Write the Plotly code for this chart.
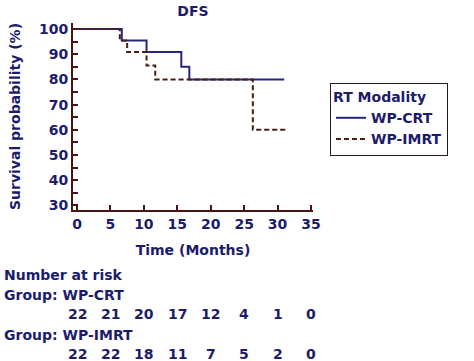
import plotly.graph_objects as go

# Kaplan-Meier step data
crt_time = [0, 6.7, 10.4, 15.6, 16.8, 31.0]
crt_surv = [100, 95.5, 90.9, 85.0, 80.0, 80.0]
imrt_time = [0, 6.4, 7.5, 10.4, 11.7, 26.3, 31.2]
imrt_surv = [100, 95.5, 90.9, 85.5, 80.0, 60.0, 60.0]

risk_times = [0, 5, 10, 15, 20, 25, 30, 35]
risk_crt = [22, 21, 20, 17, 12, 4, 1, 0]
risk_imrt = [22, 22, 18, 11, 7, 5, 2, 0]

x_ticks = [0, 5, 10, 15, 20, 25, 30, 35]
y_ticks = [30, 40, 50, 60, 70, 80, 90, 100]

NAVY = "#1c1c6b"
AXIS = "#4a1414"
CRT_COLOR = "#262680"
IMRT_COLOR = "#4b1e12"
FONT = "DejaVu Sans"

fig = go.Figure()
fig.add_trace(go.Scatter(x=crt_time, y=crt_surv, mode="lines", line_shape="hv",
                         line=dict(color=CRT_COLOR, width=2), name="WP-CRT"))
fig.add_trace(go.Scatter(x=imrt_time, y=imrt_surv, mode="lines", line_shape="hv",
                         line=dict(color=IMRT_COLOR, width=2, dash="5px,3px"), name="WP-IMRT"))

font_b = dict(family=FONT, size=14, color=NAVY, weight="bold")

fig.update_layout(
    width=474, height=361,
    margin=dict(l=73, r=161, t=23, b=151, autoexpand=False),
    paper_bgcolor="white", plot_bgcolor="white",
    font=font_b,
    title=dict(text="DFS", x=(73 + 313) / 2 / 474, xanchor="center", y=1 - 11 / 361,
               yanchor="middle", font=font_b),
    showlegend=True,
    legend=dict(title=dict(text="RT Modality", font=font_b), font=font_b,
                x=(330 - 73) / 240, xanchor="left", y=(210 - 83) / 187, yanchor="top",
                bordercolor="#2a1a1a", borderwidth=1, bgcolor="white",
                itemwidth=30, tracegroupgap=0),
    xaxis=dict(range=[-0.6, 35.3], tickvals=x_ticks, ticks="inside", ticklen=5,
               tickcolor=AXIS, tickwidth=2, showline=True, linecolor=AXIS, linewidth=2,
               showgrid=False, zeroline=False, tickfont=font_b, automargin=False,
               title=dict(text="Time (Months)", font=font_b, standoff=14)),
    yaxis=dict(range=[28.2, 102.4], tickvals=y_ticks, ticks="inside", ticklen=5,
               tickcolor=AXIS, tickwidth=2, showline=True, linecolor=AXIS, linewidth=2,
               showgrid=False, zeroline=False, tickfont=font_b, automargin=False,
               minor=dict(tickvals=[35, 45, 55, 65, 75, 85, 95], ticks="inside", ticklen=5,
                          tickcolor=AXIS, tickwidth=2, showgrid=False),
               title=dict(text="Survival probability (%)", font=font_b, standoff=15)),
)

def py(px):
    return (210 - px) / 187

label_x = -71 / 240
fig.add_annotation(text="Number at risk", xref="paper", yref="paper", x=label_x, y=py(275),
                   xanchor="left", yanchor="middle", showarrow=False, font=font_b)
fig.add_annotation(text="Group: WP-CRT", xref="paper", yref="paper", x=label_x, y=py(295),
                   xanchor="left", yanchor="middle", showarrow=False, font=font_b)
fig.add_annotation(text="Group: WP-IMRT", xref="paper", yref="paper", x=label_x, y=py(335),
                   xanchor="left", yanchor="middle", showarrow=False, font=font_b)
for t, n in zip(risk_times, risk_crt):
    fig.add_annotation(text=str(n), xref="x", yref="paper", x=t, y=py(314),
                       xanchor="center", yanchor="middle", showarrow=False, font=font_b)
for t, n in zip(risk_times, risk_imrt):
    fig.add_annotation(text=str(n), xref="x", yref="paper", x=t, y=py(354),
                       xanchor="center", yanchor="middle", showarrow=False, font=font_b)

fig.write_html("out.html", config={"displayModeBar": False},
               post_script="document.body.style.margin='0';document.body.style.padding='0';")
